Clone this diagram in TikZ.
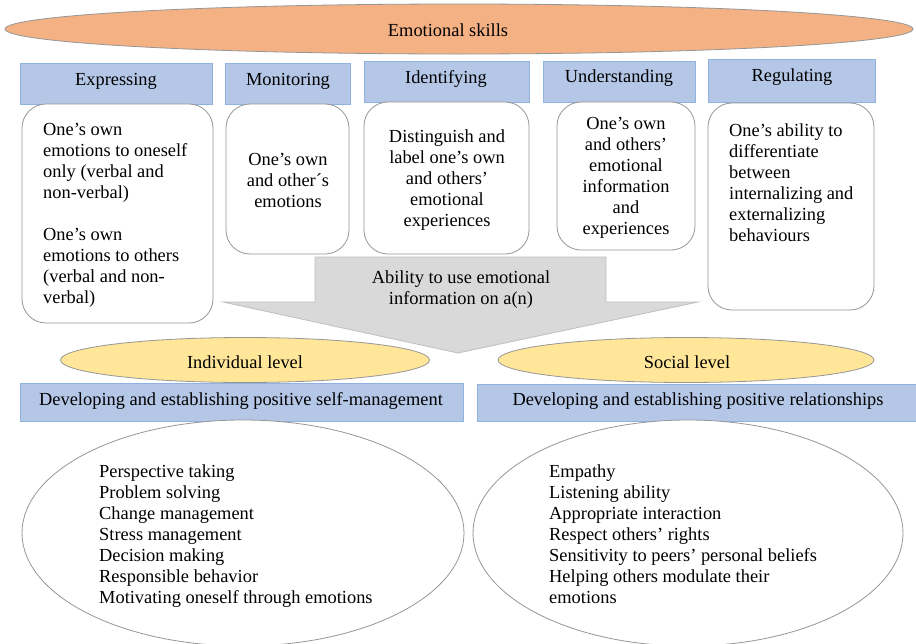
\documentclass[tikz,border=0pt]{standalone}
\usepackage{fontspec}
\setmainfont{Liberation Serif}
\usetikzlibrary{shapes.geometric}
\definecolor{hdrblue}{RGB}{180,199,231}
\definecolor{hdrline}{RGB}{143,178,222}
\definecolor{skillorange}{RGB}{244,177,131}
\definecolor{levelyellow}{RGB}{255,230,153}
\definecolor{arrowgray}{RGB}{217,217,217}
\definecolor{edgegray}{RGB}{150,150,150}
\begin{document}
\begin{tikzpicture}[x=1pt,y=-1pt,
  every node/.style={font=\fontsize{18.4}{21}\selectfont, inner sep=0pt},
  hdr/.style={draw=hdrline, line width=1pt, fill=hdrblue},
  content/.style={draw=edgegray, line width=0.8pt, fill=white, rounded corners=24pt},
  oval/.style={ellipse, draw=edgegray, line width=0.8pt, inner sep=0pt},
  txt/.style={align=center},
  ltxt/.style={align=left}]
\useasboundingbox (0,0) rectangle (916,643);
\fill[white] (0,0) rectangle (916,643);

% top ellipse
\node[oval, fill=skillorange, minimum width=908pt, minimum height=50pt] (skills) at (459,29) {};
\node (skillstxt) at (448,30) {Emotional skills};

% gray arrow
\draw[draw=white!75!black, line width=0.8pt, fill=arrowgray]
  (315,257) -- (606,257) -- (606,302) -- (698,302) -- (458,353) -- (223,302) -- (315,302) -- cycle;
\node[txt] (abilitytxt) at (461,290) {Ability to use emotional\\information on a(n)};

% header boxes
\draw[hdr] (20,63) rectangle (212,104);
\node (expr) at (116,81) {Expressing};
\draw[hdr] (225,63) rectangle (350,104);
\node (moni) at (288,81) {Monitoring};
\draw[hdr] (364,61) rectangle (529,102);
\node (iden) at (446,79) {Identifying};
\draw[hdr] (543,61) rectangle (695,102);
\node (unde) at (619,78) {Understanding};
\draw[hdr] (708,59) rectangle (875,102);
\node (regu) at (792,77) {Regulating};

% content boxes
\draw[content] (22,104) rectangle (213,323);
\node[ltxt, anchor=west] (exprtxt) at (43,215) {One’s own\\emotions to oneself\\only (verbal and\\non-verbal)\\[21pt]One’s own\\emotions to others\\(verbal and non-\\verbal)};
\draw[content] (226,104) rectangle (349,254);
\node[txt] (monitxt) at (288,180) {One’s own\\and other´s\\emotions};
\draw[content] (364,102) rectangle (529,254);
\node[txt] (identxt) at (447,180) {Distinguish and\\label one’s own\\and others’\\emotional\\experiences};
\draw[content] (557,102) rectangle (695,250);
\node[txt] (undetxt) at (626,178) {One’s own\\and others’\\emotional\\information\\and\\experiences};
\draw[content] (708,103) rectangle (874,310);
\node[ltxt, anchor=west] (regutxt) at (729,183) {One’s ability to\\differentiate\\between\\internalizing and\\externalizing\\behaviours};

% level ellipses
\node[oval, fill=levelyellow, minimum width=369pt, minimum height=45pt] (indiv) at (245,360) {};
\node (indivtxt) at (245,362) {Individual level};
\node[oval, fill=levelyellow, minimum width=376pt, minimum height=45pt] (social) at (686,360) {};
\node (socialtxt) at (687,362) {Social level};

% goal boxes
\draw[hdr] (20,383) rectangle (463,421);
\node (selfmgmt) at (241,401) {Developing and establishing positive self-management};
\draw[hdr] (477,384) rectangle (922,421);
\node (relat) at (698,401) {Developing and establishing positive relationships};

% bottom ellipses
\node[oval, fill=white, minimum width=442pt, minimum height=226pt] (indivell) at (243,533) {};
\node[ltxt, anchor=west] (indivlist) at (99,536) {Perspective taking\\Problem solving\\Change management\\Stress management\\Decision making\\Responsible behavior\\Motivating oneself through emotions};
\node[oval, fill=white, minimum width=430pt, minimum height=226pt] (socialell) at (688,533) {};
\node[ltxt, anchor=west] (sociallist) at (549,534) {Empathy\\Listening ability\\Appropriate interaction\\Respect others’ rights\\Sensitivity to peers’ personal beliefs\\Helping others modulate their\\emotions};
\end{tikzpicture}
\end{document}
